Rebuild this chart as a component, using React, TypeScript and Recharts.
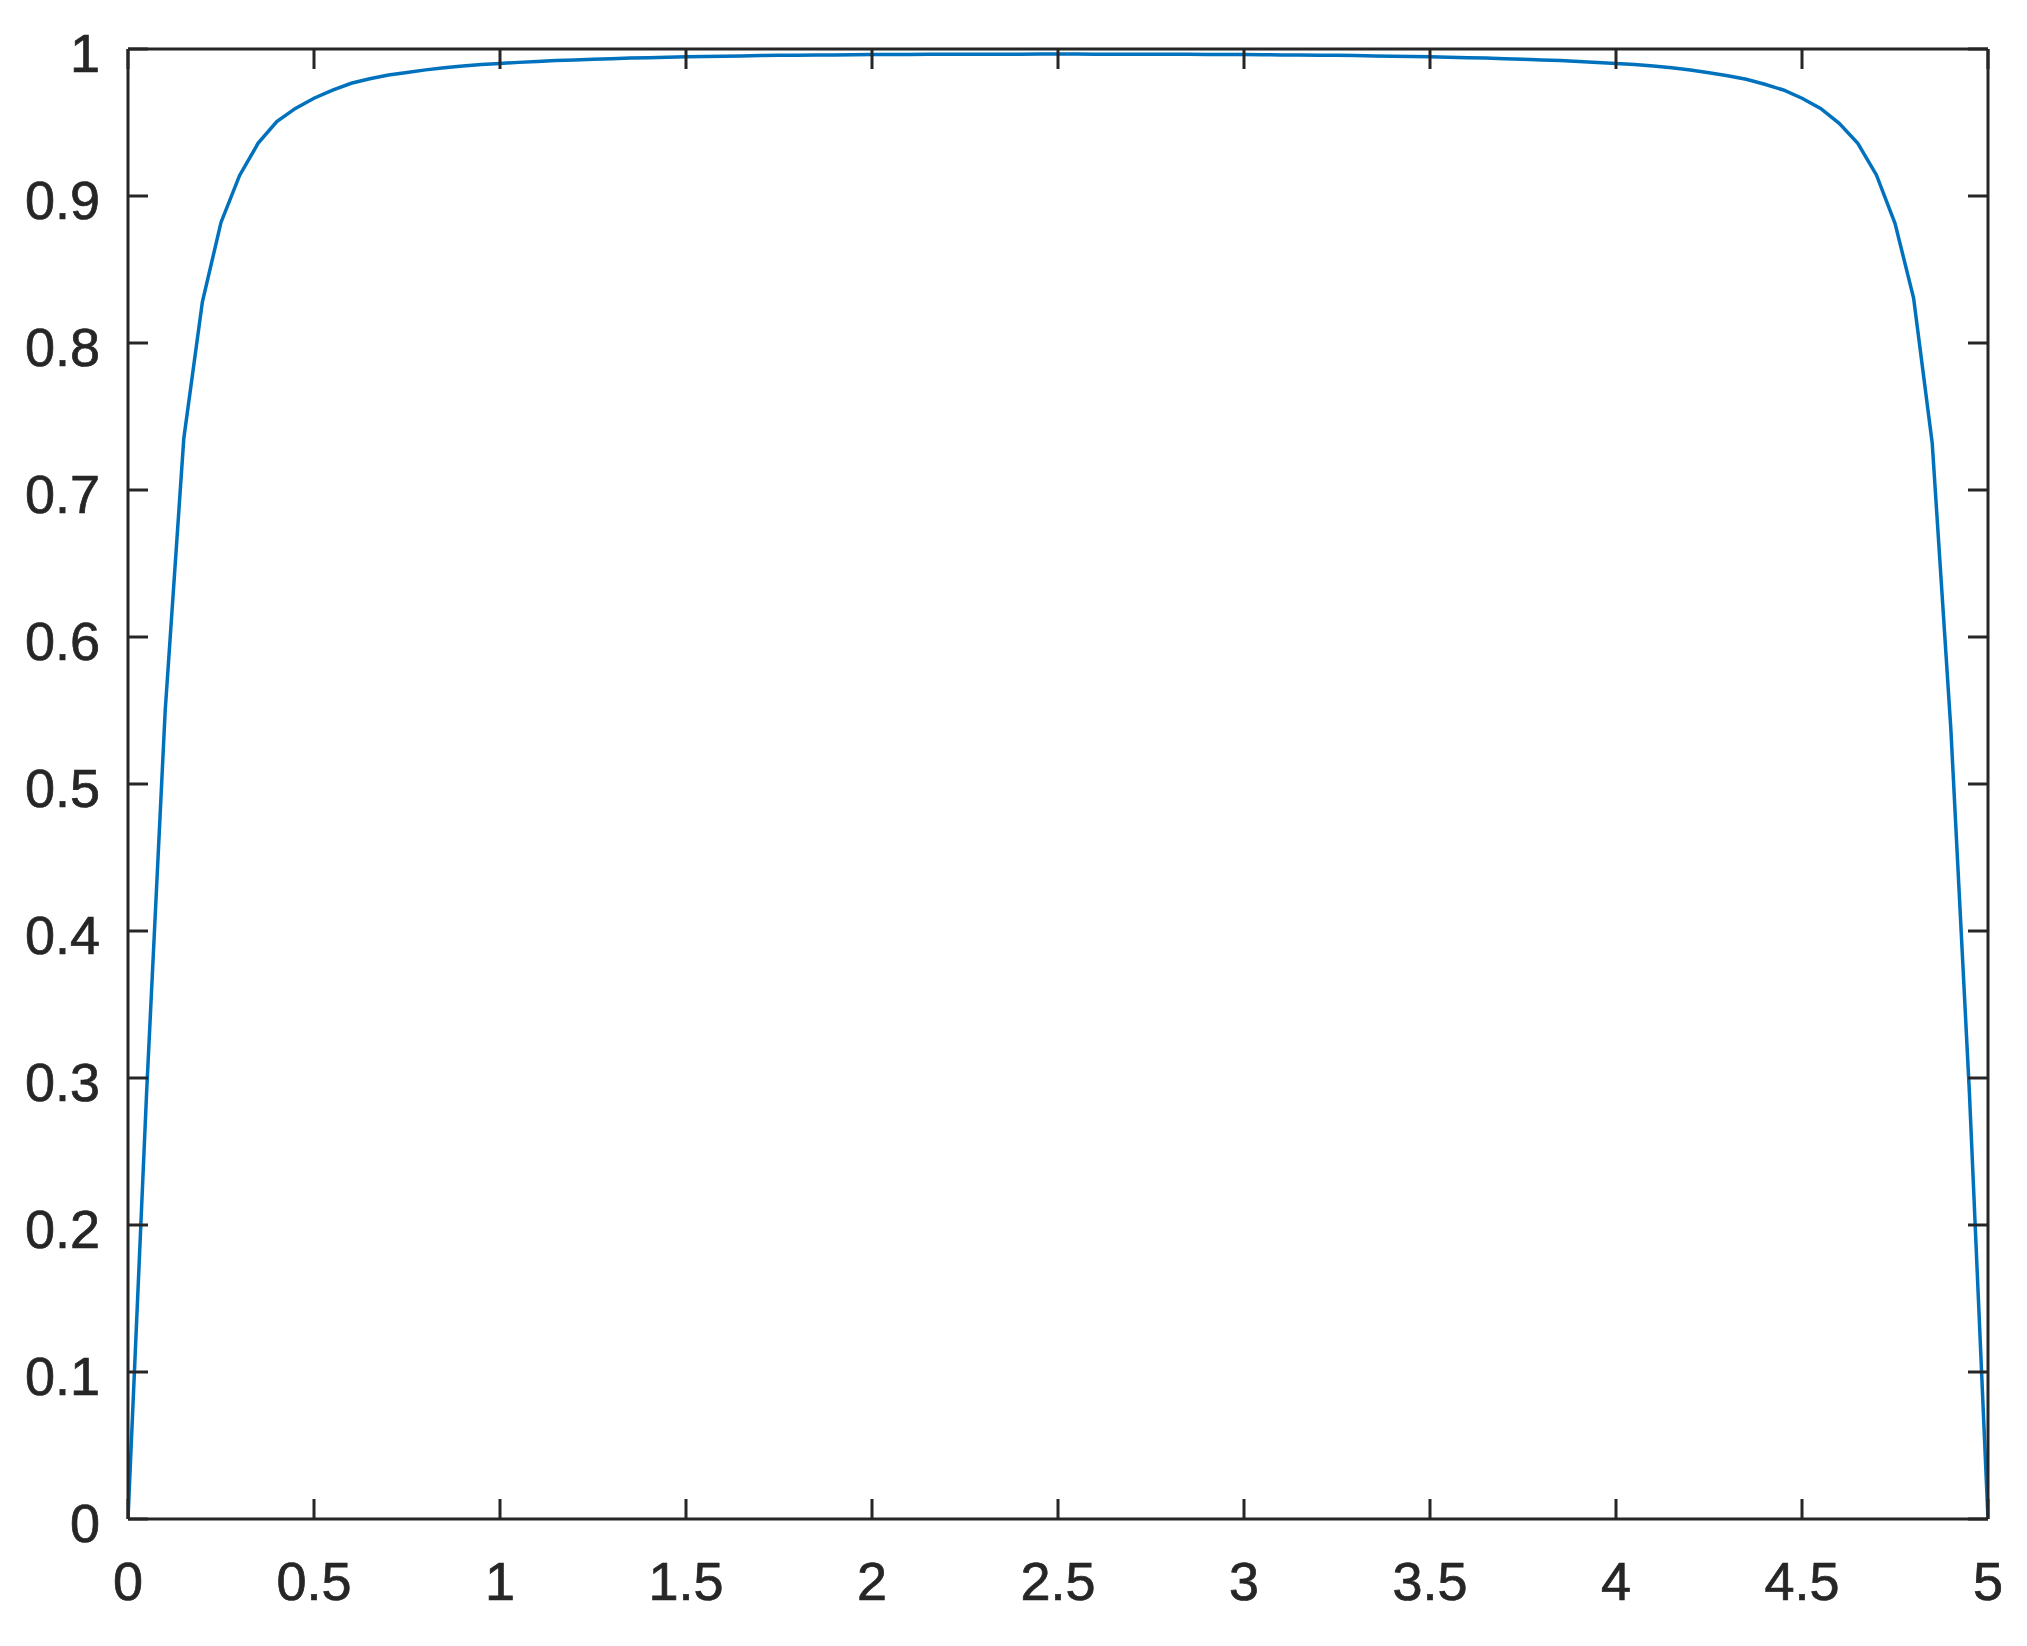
import { Line, LineChart, XAxis, YAxis } from "recharts";

// sample positions along x, step 0.05 from 0 to 5
const xValues = [
  0, 0.05, 0.1, 0.15, 0.2, 0.25, 0.3, 0.35, 0.4, 0.45,
  0.5, 0.55, 0.6, 0.65, 0.7, 0.75, 0.8, 0.85, 0.9, 0.95,
  1, 1.05, 1.1, 1.15, 1.2, 1.25, 1.3, 1.35, 1.4, 1.45,
  1.5, 1.55, 1.6, 1.65, 1.7, 1.75, 1.8, 1.85, 1.9, 1.95,
  2, 2.05, 2.1, 2.15, 2.2, 2.25, 2.3, 2.35, 2.4, 2.45,
  2.5, 2.55, 2.6, 2.65, 2.7, 2.75, 2.8, 2.85, 2.9, 2.95,
  3, 3.05, 3.1, 3.15, 3.2, 3.25, 3.3, 3.35, 3.4, 3.45,
  3.5, 3.55, 3.6, 3.65, 3.7, 3.75, 3.8, 3.85, 3.9, 3.95,
  4, 4.05, 4.1, 4.15, 4.2, 4.25, 4.3, 4.35, 4.4, 4.45,
  4.5, 4.55, 4.6, 4.65, 4.7, 4.75, 4.8, 4.85, 4.9, 4.95,
  5
];

// values
const yValues = [
  0, 0.29, 0.55, 0.735, 0.828, 0.882, 0.914, 0.936, 0.9506, 0.9596,
  0.9665, 0.972, 0.9767, 0.9798, 0.9823, 0.984, 0.9858, 0.9873, 0.9884, 0.9894,
  0.9902, 0.9909, 0.9915, 0.9921, 0.9926, 0.993, 0.9934, 0.9938, 0.9941, 0.9944,
  0.9947, 0.9949, 0.9951, 0.9953, 0.9955, 0.9957, 0.9958, 0.9959, 0.996, 0.9961,
  0.9962, 0.9963, 0.9963, 0.9964, 0.9964, 0.9965, 0.9965, 0.9965, 0.9965, 0.9966,
  0.9966, 0.9966, 0.9965, 0.9965, 0.9965, 0.9965, 0.9964, 0.9964, 0.9963, 0.9963,
  0.9962, 0.9961, 0.996, 0.9959, 0.9958, 0.9957, 0.9955, 0.9953, 0.9951, 0.9949,
  0.9947, 0.9944, 0.9941, 0.9938, 0.9934, 0.993, 0.9926, 0.9921, 0.9915, 0.9909,
  0.9902, 0.9894, 0.9884, 0.9873, 0.9857, 0.9839, 0.9818, 0.9794, 0.976, 0.9721,
  0.9665, 0.9596, 0.9494, 0.9358, 0.9143, 0.8814, 0.8306, 0.732, 0.538, 0.29,
  0
];

const xTicks = [0, 0.5, 1, 1.5, 2, 2.5, 3, 3.5, 4, 4.5, 5];
const yTicks = [0, 0.1, 0.2, 0.3, 0.4, 0.5, 0.6, 0.7, 0.8, 0.9, 1];

const data = xValues.map((x, i) => ({ x, y: yValues[i] }));

const AXIS = "#262626";
const FONT = "Liberation Sans, Arial, Helvetica, sans-serif";
const TICK_LEN = 20;
const axisLine = { stroke: AXIS, strokeWidth: 3 };

// MATLAB-style ticks: the mark points into the plot, the label sits outside
function BottomTick(props: any) {
  const { x, y, payload } = props;
  return (
    <g>
      <line x1={x} y1={y} x2={x} y2={y - TICK_LEN} stroke={AXIS} strokeWidth={3} />
      <text
        x={x}
        y={y + 81}
        textAnchor="middle"
        fill={AXIS}
        stroke={AXIS}
        strokeWidth={0.7}
        fontSize={54}
        fontFamily={FONT}
      >
        {payload.value}
      </text>
    </g>
  );
}

function LeftTick(props: any) {
  const { x, y, payload } = props;
  return (
    <g>
      <line x1={x} y1={y} x2={x + TICK_LEN} y2={y} stroke={AXIS} strokeWidth={3} />
      <text
        x={x - 28}
        y={y + 23}
        textAnchor="end"
        fill={AXIS}
        stroke={AXIS}
        strokeWidth={0.7}
        fontSize={54}
        fontFamily={FONT}
      >
        {payload.value}
      </text>
    </g>
  );
}

function TopTick(props: any) {
  const { x, y } = props;
  return <line x1={x} y1={y} x2={x} y2={y + TICK_LEN} stroke={AXIS} strokeWidth={3} />;
}

function RightTick(props: any) {
  const { x, y } = props;
  return <line x1={x} y1={y} x2={x - TICK_LEN} y2={y} stroke={AXIS} strokeWidth={3} />;
}

export default function App() {
  return (
    <div style={{ position: "absolute", left: 0, top: 0, background: "#fff" }}>
      <LineChart
        width={2027}
        height={1646}
        data={data}
        margin={{ top: 48, right: 38, bottom: 0, left: 0 }}
      >
        <XAxis
          dataKey="x"
          type="number"
          domain={[0, 5]}
          ticks={xTicks}
          allowDataOverflow
          height={127}
          tickSize={0}
          tickMargin={0}
          tickLine={false}
          axisLine={axisLine}
          tick={<BottomTick />}
          interval={0}
        />
        <XAxis
          xAxisId="top"
          orientation="top"
          dataKey="x"
          type="number"
          domain={[0, 5]}
          ticks={xTicks}
          allowDataOverflow
          height={1}
          tickSize={0}
          tickMargin={0}
          tickLine={false}
          axisLine={axisLine}
          tick={<TopTick />}
          interval={0}
        />
        <YAxis
          type="number"
          domain={[0, 1]}
          ticks={yTicks}
          allowDataOverflow
          width={128}
          tickSize={0}
          tickMargin={0}
          tickLine={false}
          axisLine={axisLine}
          tick={<LeftTick />}
          interval={0}
        />
        <YAxis
          yAxisId="right"
          orientation="right"
          type="number"
          domain={[0, 1]}
          ticks={yTicks}
          allowDataOverflow
          width={1}
          tickSize={0}
          tickMargin={0}
          tickLine={false}
          axisLine={axisLine}
          tick={<RightTick />}
          interval={0}
        />
        {/* invisible copies so the mirrored frame axes get a scale */}
        <Line
          xAxisId="top"
          dataKey="y"
          stroke="none"
          dot={false}
          activeDot={false}
          legendType="none"
          isAnimationActive={false}
        />
        <Line
          yAxisId="right"
          dataKey="y"
          stroke="none"
          dot={false}
          activeDot={false}
          legendType="none"
          isAnimationActive={false}
        />
        <Line
          type="linear"
          dataKey="y"
          stroke="#0072BD"
          strokeWidth={3.5}
          dot={false}
          isAnimationActive={false}
        />
      </LineChart>
    </div>
  );
}
